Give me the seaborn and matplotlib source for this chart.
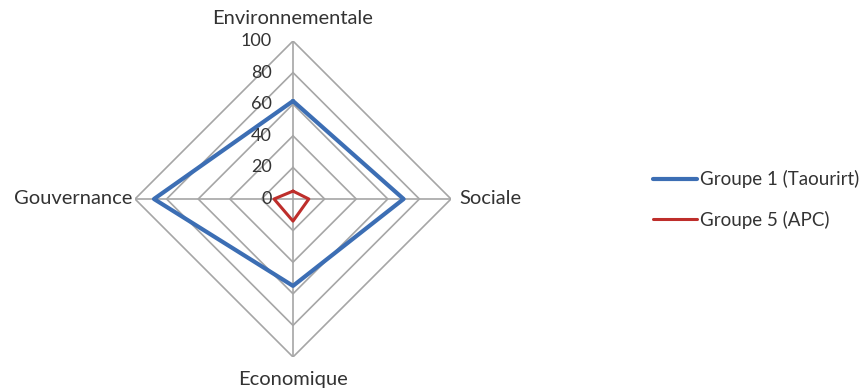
import numpy as np
import matplotlib
matplotlib.use("Agg")
import matplotlib.pyplot as plt
import seaborn as sns
import pandas as pd

categories = ["Environnementale", "Sociale", "Economique", "Gouvernance"]
groupe1 = [62, 70, 55, 88]
groupe5 = [5, 10, 14, 12]
series_names = ["Groupe 1 (Taourirt)", "Groupe 5 (APC)"]
tick_values = [0, 20, 40, 60, 80, 100]
tick_labels = ["0", "20", "40", "60", "80", "100"]

sns.set_theme(style="white")
plt.rcParams['font.family'] = ['Lato', 'DejaVu Sans']

text_color = "#333333"
grid_color = "#A6A6A6"
colors = ["#3C6EB4", "#BE2E2B"]
widths = [3.0, 2.2]

fig = plt.figure(figsize=(8.67, 3.89), dpi=100)
ax = fig.add_axes([0.1557, 0.0823, 0.3645, 0.8123], projection='polar')
ax.set_theta_zero_location('N')
ax.set_theta_direction(-1)

n = len(categories)
angles = np.linspace(0, 2 * np.pi, n, endpoint=False)
closed = np.append(angles, angles[0])

# polygon grid
for t in tick_values[1:]:
    ax.plot(closed, [t] * (n + 1), color=grid_color, lw=1.2, zorder=1)
for a in angles:
    ax.plot([a, a], [0, tick_values[-1]], color=grid_color, lw=1.2, zorder=1)

# data series
for name, vals, c, w in zip(series_names, [groupe1, groupe5], colors, widths):
    df = pd.DataFrame({"theta": closed, "value": list(vals) + [vals[0]]})
    sns.lineplot(data=df, x="theta", y="value", sort=False, estimator=None,
                 color=c, linewidth=w, label=name, ax=ax, zorder=3)

ax.set_ylim(0, 100)
ax.grid(False)
ax.set_xticks([])
ax.set_yticks([])
ax.set_xlabel("")
ax.set_ylabel("")
ax.spines['polar'].set_visible(False)
ax.set_facecolor("none")

# category labels
lab_fs = 14.5
ax.text(angles[0], 114.5, categories[0], ha='center', va='center', fontsize=lab_fs, color=text_color)
ax.text(angles[1], 105.5, categories[1], ha='left', va='center', fontsize=lab_fs, color=text_color)
ax.text(angles[2], 114.0, categories[2], ha='center', va='center', fontsize=lab_fs, color=text_color)
ax.text(angles[3], 101.5, categories[3], ha='right', va='center', fontsize=lab_fs, color=text_color)

# radial tick labels
for t, lbl in zip(tick_values, tick_labels):
    ax.annotate(lbl, xy=(0, t), xytext=(-21, 0), textcoords='offset pixels',
                ha='right', va='center', fontsize=13, color=text_color)

handles, labels = ax.get_legend_handles_labels()
ax.get_legend().remove()
leg_fs = 13.5
fig.legend(handles, labels, loc='center left', bbox_to_anchor=(653 / 867, (389 - 199.5) / 389),
           frameon=False, fontsize=leg_fs, handlelength=2.35, handletextpad=0.16,
           labelspacing=1.2, borderpad=0, borderaxespad=0, labelcolor=text_color)

fig.savefig("out.png", dpi=100)
